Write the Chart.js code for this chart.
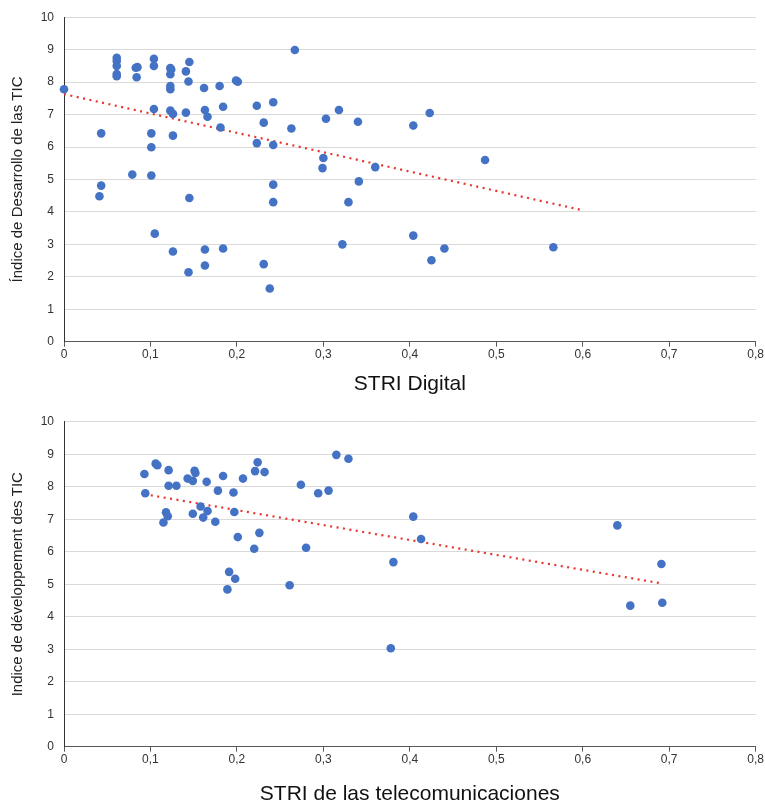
<!DOCTYPE html>
<html>
<head>
<meta charset="utf-8">
<script src="https://cdn.jsdelivr.net/npm/chart.js@4.4.1/dist/chart.umd.min.js"></script>
<style>
  html, body { margin: 0; padding: 0; background: #fff; }
  #wrap { position: relative; width: 765px; height: 805px; }
  .box { position: absolute; left: 0; width: 765px; }
</style>
</head>
<body>
<div id="wrap">
  <div class="box" style="top:0;height:400px"><canvas id="chartDigital"></canvas></div>
  <div class="box" style="top:400px;height:405px"><canvas id="chartTelecom"></canvas></div>
</div>
<script>
// STRI Digital vs Índice de Desarrollo de las TIC
var digitalX = [0.000,0.061,0.061,0.061,0.061,0.061,0.083,0.085,0.084,0.104,0.104,0.123,0.124,0.123,0.123,0.123,
  0.145,0.141,0.144,0.162,0.180,0.199,0.201,0.104,0.123,0.126,0.141,0.163,0.166,0.184,0.181,0.043,0.101,0.126,
  0.101,0.079,0.101,0.043,0.041,0.145,0.105,0.126,0.163,0.184,0.144,0.163,0.267,0.223,0.242,0.318,0.303,0.340,
  0.231,0.263,0.223,0.242,0.300,0.299,0.360,0.341,0.242,0.242,0.329,0.322,0.231,0.238,0.423,0.404,0.487,0.404,
  0.440,0.425,0.566];
var digitalY = [7.78,8.75,8.65,8.50,8.25,8.18,8.44,8.46,8.15,8.72,8.50,8.43,8.39,8.24,7.88,7.78,
  8.62,8.33,8.02,7.82,7.88,8.05,8.01,7.17,7.12,7.02,7.06,7.14,6.93,7.24,6.60,6.42,6.42,6.35,
  5.99,5.15,5.12,4.81,4.48,4.43,3.33,2.78,2.84,2.87,2.14,2.35,8.99,7.27,7.38,7.14,6.87,6.78,
  6.75,6.57,6.12,6.06,5.66,5.35,5.38,4.94,4.84,4.30,4.30,3.00,2.39,1.64,7.05,6.66,5.60,3.27,
  2.87,2.51,2.91];
var digitalTrendX = [0, 0.6];
var digitalTrendY = [7.63, 4.05];

// STRI de las telecomunicaciones vs Indice de développement des TIC
var telecomX = [0.093,0.094,0.106,0.108,0.121,0.121,0.130,0.143,0.149,0.151,0.152,0.165,0.178,0.184,0.196,0.207,
  0.221,0.224,0.232,0.118,0.120,0.115,0.149,0.158,0.166,0.161,0.175,0.197,0.201,0.220,0.226,0.191,0.198,0.189,
  0.261,0.280,0.274,0.294,0.306,0.315,0.329,0.381,0.378,0.404,0.413,0.640,0.691,0.655,0.692];
var telecomY = [8.39,7.80,8.71,8.66,8.51,8.03,8.03,8.25,8.18,8.49,8.42,8.15,7.88,8.33,7.82,8.25,
  8.48,8.75,8.45,7.21,7.09,6.90,7.17,7.39,7.25,7.05,6.92,7.22,6.45,6.09,6.58,5.38,5.17,4.84,
  4.97,6.12,8.06,7.80,7.88,8.98,8.86,5.68,3.03,7.08,6.39,6.81,5.62,4.34,4.43];
var telecomTrendX = [0.093, 0.692];
var telecomTrendY = [7.77, 5.02];

var xTicks = [0, 0.1, 0.2, 0.3, 0.4, 0.5, 0.6, 0.7, 0.8];
var yTicks = [0, 1, 2, 3, 4, 5, 6, 7, 8, 9, 10];

var dotColor = '#4472C4';
var trendColor = '#E8332A';

function toPoints(xs, ys) {
  var pts = [];
  for (var i = 0; i < xs.length; i++) pts.push({ x: xs[i], y: ys[i] });
  return pts;
}

function makeChart(id, xs, ys, tx, ty, cfg) {
  var ctx = document.getElementById(id).getContext('2d');
  return new Chart(ctx, {
    type: 'scatter',
    data: {
      datasets: [{
        data: toPoints(xs, ys),
        backgroundColor: dotColor,
        borderWidth: 0,
        pointRadius: 4.3,
        clip: false,
        order: 1
      }, {
        type: 'line',
        data: toPoints(tx, ty),
        borderColor: trendColor,
        borderWidth: 2.2,
        borderDash: [2, 4.5],
        pointRadius: 0,
        fill: false,
        order: 2
      }]
    },
    options: {
      responsive: true,
      maintainAspectRatio: false,
      animation: false,
      layout: { padding: { top: cfg.top, right: 1, left: 0, bottom: 0 } },
      plugins: { legend: { display: false }, tooltip: { enabled: false } },
      scales: {
        x: {
          type: 'linear',
          min: 0, max: 0.8,
          afterBuildTicks: function (s) { s.ticks = xTicks.map(function (v) { return { value: v }; }); },
          afterFit: function (s) { s.height = cfg.xHeight; },
          grid: { drawOnChartArea: false, drawTicks: true, tickLength: 5, color: '#595959' },
          border: { display: true, color: '#595959', width: 1 },
          ticks: {
            color: '#333',
            padding: 1,
            maxRotation: 0,
            font: { family: 'Liberation Sans Narrow, Liberation Sans', size: 12 },
            callback: function (v) {
              var r = Math.round(v * 10) / 10;
              return r === 0 ? '0' : r.toFixed(1).replace('.', ',');
            }
          },
          title: {
            display: true,
            text: cfg.xTitle,
            color: '#111',
            font: { family: 'Liberation Sans Narrow, Liberation Sans', size: 21, lineHeight: 1 },
            padding: { top: 0, bottom: cfg.titlePad }
          }
        },
        y: {
          min: 0, max: 10,
          afterBuildTicks: function (s) { s.ticks = yTicks.map(function (v) { return { value: v }; }); },
          afterFit: function (s) { s.width = 64; },
          grid: { color: '#d9d9d9', drawTicks: false, lineWidth: 1 },
          border: { display: true, color: '#333', width: 1 },
          ticks: {
            color: '#333',
            padding: 10,
            font: { family: 'Liberation Sans', size: 12 }
          },
          title: {
            display: true,
            text: cfg.yTitle,
            color: '#222',
            font: { family: 'Liberation Sans', size: 15, lineHeight: 1.2 },
            padding: { top: 9, bottom: 0 }
          }
        }
      }
    }
  });
}

makeChart('chartDigital', digitalX, digitalY, digitalTrendX, digitalTrendY, {
  top: 16, xHeight: 58.3, titlePad: 5,
  xTitle: 'STRI Digital', yTitle: 'Índice de Desarrollo de las TIC'
});
makeChart('chartTelecom', telecomX, telecomY, telecomTrendX, telecomTrendY, {
  top: 21.7, xHeight: 58.3, titlePad: 0,
  xTitle: 'STRI de las telecomunicaciones', yTitle: 'Indice de développement des TIC'
});
</script>
</body>
</html>
